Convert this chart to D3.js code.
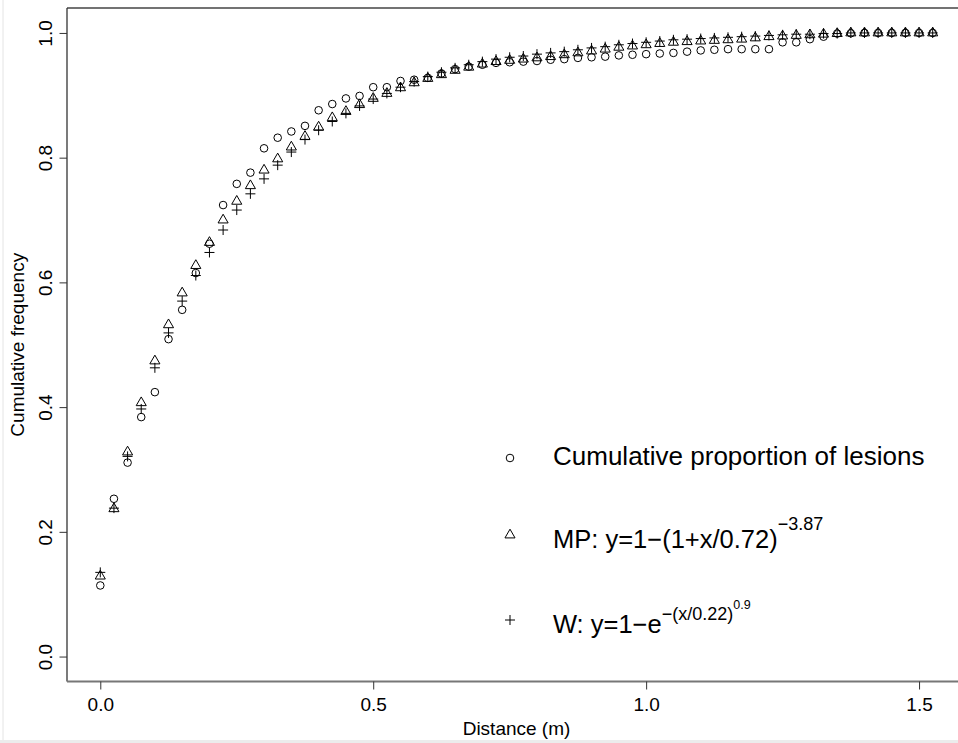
<!DOCTYPE html>
<meta charset="utf-8">
<style>
  body { margin: 0; background: #fff; }
  text { font-family: "Liberation Sans", Arial, Helvetica, sans-serif; fill: #000; }
  .pt { fill: none; stroke: #000; stroke-width: 1; }
</style>
<body>
<script src="https://d3js.org/d3.v7.min.js"></script>
<script>
  // distance (m) of each point
  const distance = [0, 0.025, 0.05, 0.075, 0.1, 0.125, 0.15, 0.175, 0.2, 0.225,
    0.25, 0.275, 0.3, 0.325, 0.35, 0.375, 0.4, 0.425, 0.45, 0.475,
    0.5, 0.525, 0.55, 0.575, 0.6, 0.625, 0.65, 0.675, 0.7, 0.725,
    0.75, 0.775, 0.8, 0.825, 0.85, 0.875, 0.9, 0.925, 0.95, 0.975,
    1.0, 1.025, 1.05, 1.075, 1.1, 1.125, 1.15, 1.175, 1.2, 1.225,
    1.25, 1.275, 1.3, 1.325, 1.35, 1.375, 1.4, 1.425, 1.45, 1.475,
    1.5, 1.525];

  // observed cumulative proportion of lesions (circles)
  const observed = [0.114, 0.253, 0.311, 0.384, 0.424, 0.509, 0.556, 0.615, 0.662, 0.724,
    0.758, 0.776, 0.815, 0.832, 0.842, 0.851, 0.876, 0.886, 0.895, 0.899,
    0.913, 0.913, 0.923, 0.925, 0.928, 0.935, 0.942, 0.946, 0.949, 0.952,
    0.953, 0.954, 0.955, 0.957, 0.958, 0.960, 0.961, 0.962, 0.964, 0.965,
    0.966, 0.967, 0.968, 0.970, 0.972, 0.973, 0.974, 0.974, 0.974, 0.974,
    0.985, 0.985, 0.990, 0.994, 0.999, 0.9995, 1.0, 1.0, 1.0, 1.0,
    1.0, 1.0];

  // MP fit (triangles)
  const mpFit = [0.129, 0.237, 0.328, 0.407, 0.474, 0.532, 0.583, 0.627, 0.664, 0.700,
    0.730, 0.755, 0.780, 0.798, 0.817, 0.834, 0.849, 0.864, 0.874, 0.885,
    0.895, 0.903, 0.912, 0.920, 0.927, 0.933, 0.940, 0.945, 0.950, 0.954,
    0.956, 0.958, 0.960, 0.962, 0.965, 0.968, 0.971, 0.974, 0.977, 0.979,
    0.981, 0.983, 0.985, 0.986, 0.987, 0.988, 0.989, 0.990, 0.992, 0.994,
    0.995, 0.996, 0.997, 0.998, 0.999, 1.0, 1.0, 1.0, 1.0, 1.0,
    1.0, 1.0];

  // W fit (pluses)
  const wFit = [0.135, 0.238, 0.321, 0.397, 0.463, 0.519, 0.570, 0.611, 0.648, 0.684,
    0.716, 0.742, 0.766, 0.788, 0.809, 0.829, 0.844, 0.858, 0.871, 0.883,
    0.894, 0.903, 0.913, 0.922, 0.930, 0.937, 0.944, 0.949, 0.954, 0.958,
    0.961, 0.963, 0.966, 0.968, 0.970, 0.973, 0.976, 0.978, 0.981, 0.983,
    0.985, 0.987, 0.989, 0.990, 0.991, 0.992, 0.993, 0.994, 0.995, 0.996,
    0.997, 0.998, 0.998, 0.999, 0.999, 1.0, 1.0, 1.0, 1.0, 1.0,
    1.0, 1.0];

  const xTicks = [0, 0.5, 1.0, 1.5];
  const yTicks = [0, 0.2, 0.4, 0.6, 0.8, 1.0];

  const width = 958, height = 743;
  const plot = { left: 67, right: 966, top: 8, bottom: 681.5 };
  const axisFont = "19px";

  const svg = d3.select("body").append("svg")
    .attr("width", width)
    .attr("height", height);

  svg.append("rect").attr("width", width).attr("height", height).attr("fill", "#fff");
  // light frame of the exported image
  svg.append("rect").attr("x", 0).attr("y", 740).attr("width", width).attr("height", 3).attr("fill", "#ececec");
  svg.append("line").attr("x1", 3).attr("x2", 3).attr("y1", 0).attr("y2", 740).attr("stroke", "#e4e4e4");

  const x = d3.scaleLinear().domain([-0.061, 1.586]).range([plot.left, plot.right]);
  const y = d3.scaleLinear().domain([-0.04, 1.04]).range([plot.bottom, plot.top]);

  // box
  svg.append("line").attr("x1", plot.left).attr("x2", width).attr("y1", plot.top).attr("y2", plot.top)
    .attr("stroke", "#444").attr("stroke-width", 1.3);
  svg.append("line").attr("x1", plot.left).attr("x2", plot.left).attr("y1", plot.top).attr("y2", plot.bottom)
    .attr("stroke", "#333").attr("stroke-width", 1.3);
  svg.append("line").attr("x1", plot.left).attr("x2", width).attr("y1", plot.bottom).attr("y2", plot.bottom)
    .attr("stroke", "#777").attr("stroke-width", 2);

  // x axis
  const gx = svg.append("g")
    .attr("transform", `translate(0,${plot.bottom})`)
    .call(d3.axisBottom(x).tickValues(xTicks).tickFormat(d3.format(".1f")).tickSize(8).tickSizeOuter(0));
  gx.select(".domain").remove();
  gx.selectAll("line").attr("stroke", "#333");
  gx.selectAll("text").attr("y", 29.5).attr("dy", 0).style("font-size", axisFont);

  // y axis
  const gy = svg.append("g")
    .attr("transform", `translate(${plot.left},0)`)
    .call(d3.axisLeft(y).tickValues(yTicks).tickFormat(d3.format(".1f")).tickSize(7.5).tickSizeOuter(0));
  gy.select(".domain").remove();
  gy.selectAll("line").attr("stroke", "#333");
  gy.selectAll("text")
    .attr("transform", "rotate(-90)")
    .attr("x", 0).attr("y", -15.5).attr("dy", 0)
    .attr("text-anchor", "middle")
    .style("font-size", axisFont);

  // axis titles, centred on the plot region
  svg.append("text")
    .attr("x", (plot.left + plot.right) / 2).attr("y", 735)
    .attr("text-anchor", "middle")
    .style("font-size", axisFont)
    .text("Distance (m)");

  svg.append("text")
    .attr("transform", `translate(24,${(plot.top + plot.bottom) / 2}) rotate(-90)`)
    .attr("text-anchor", "middle")
    .style("font-size", axisFont)
    .text("Cumulative frequency");

  // markers
  const circlePath = d3.symbol(d3.symbolCircle, Math.PI * 3.8 * 3.8)();
  const trianglePath = d3.symbol(d3.symbolTriangle, 44)();
  const plusPath = "M-5,0H5M0,-5V5";

  const pts = distance.map((d, i) => ({ d, obs: observed[i], mp: mpFit[i], w: wFit[i] }));

  svg.append("g").selectAll("path")
    .data(pts)
    .join("path")
    .attr("class", "pt")
    .attr("transform", p => `translate(${x(p.d)},${y(p.obs)})`)
    .attr("d", circlePath);

  svg.append("g").selectAll("path")
    .data(pts)
    .join("path")
    .attr("class", "pt")
    .attr("transform", p => `translate(${x(p.d)},${y(p.mp)})`)
    .attr("d", trianglePath);

  svg.append("g").selectAll("path")
    .data(pts)
    .join("path")
    .attr("class", "pt")
    .attr("transform", p => `translate(${x(p.d)},${y(p.w)})`)
    .attr("d", plusPath);

  // legend
  const legend = svg.append("g");
  legend.append("path").attr("class", "pt").attr("transform", "translate(510,458)").attr("d", circlePath);
  legend.append("path").attr("class", "pt").attr("transform", "translate(510,535)").attr("d", trianglePath);
  legend.append("path").attr("class", "pt").attr("transform", "translate(510,620)").attr("d", plusPath);

  legend.append("text")
    .attr("x", 553).attr("y", 464.5)
    .style("font-size", "26px")
    .text("Cumulative proportion of lesions");

  const mp = legend.append("text")
    .attr("x", 553).attr("y", 547.5)
    .style("font-size", "25.5px");
  mp.append("tspan").text("MP: y=1\u2212(1+x/0.72)");
  mp.append("tspan").attr("dy", -17.5).style("font-size", "18px").text("\u22123.87");

  const wt = legend.append("text")
    .attr("x", 553).attr("y", 633)
    .style("font-size", "25.5px");
  wt.append("tspan").text("W: y=1\u2212e");
  wt.append("tspan").attr("dy", -13).style("font-size", "18px").text("\u2212(x/0.22)");
  wt.append("tspan").attr("dy", -11).style("font-size", "12.5px").text("0.9");
</script>
</body>
